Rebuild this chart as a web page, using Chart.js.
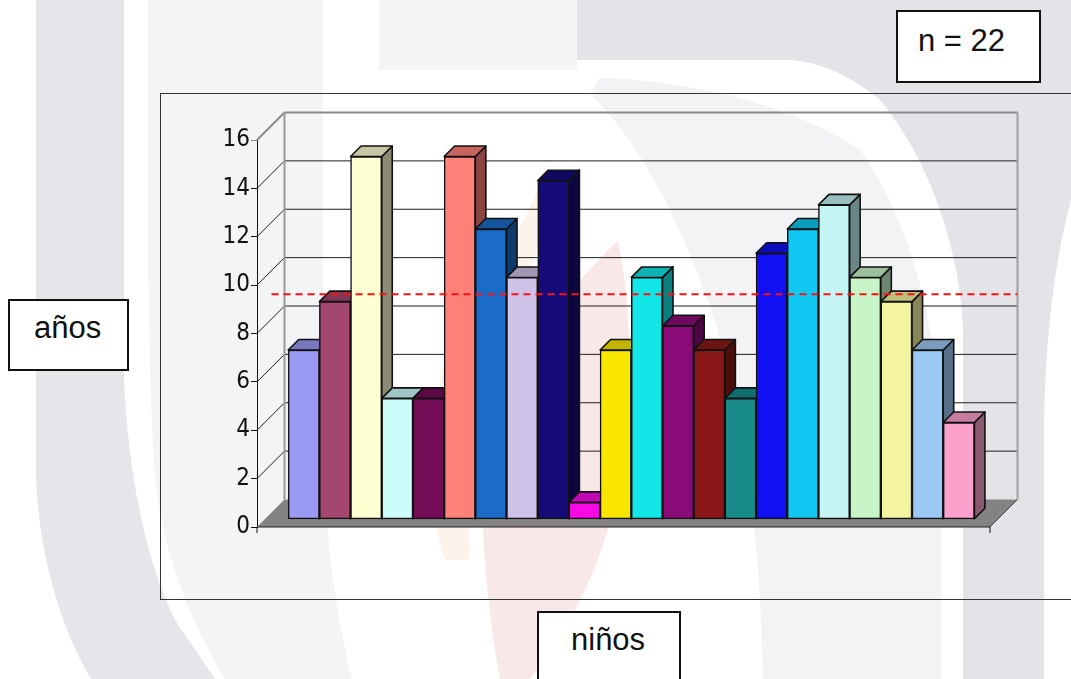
<!DOCTYPE html>
<html>
<head>
<meta charset="utf-8">
<script src="https://cdn.jsdelivr.net/npm/chart.js@4.4.0/dist/chart.umd.min.js"></script>
<style>
  html, body { margin:0; padding:0; width:1071px; height:679px; overflow:hidden; background:#fff;
               font-family:"Liberation Sans", Arial, sans-serif; }
  #bg { position:absolute; left:0; top:0; }
  #frame { position:absolute; left:160px; top:93px; width:1000px; height:507px;
           border:1.5px solid #333; box-sizing:border-box; }
  #c { position:absolute; left:0; top:0; }
  .box { position:absolute; background:#fff; border:2px solid #111; box-sizing:border-box; }
  .txt { position:absolute; font-size:31px; line-height:31px; color:#111; white-space:nowrap; }
</style>
</head>
<body>
<svg id="bg" width="1071" height="679" viewBox="0 0 1071 679">
  <path fill="#f3f4f6" d="M148,0 L323,0 L323,450 C326,540 335,610 352,679 L225,679 C190,620 165,560 155,480 C150,400 148,300 148,200 Z"/>
  <path fill="#f4f5f7" d="M379,0 L577,0 L577,70 L379,70 Z"/>
  <path fill="#f3f3f6" d="M600,78 C700,80 800,110 860,150 C910,220 935,320 941,420 L941,679 L763,679 C760,520 740,380 700,280 C670,200 630,130 590,95 Z"/>
  <path fill="#fdf3ea" d="M545,165 C530,230 470,300 440,380 C425,440 430,520 445,560 L470,560 C465,480 480,400 510,330 C530,280 550,220 545,165 Z"/>
  <path fill="#f9e8e8" d="M618,240 C630,300 635,380 620,480 C605,560 570,630 530,679 L500,679 C485,600 478,500 485,440 C500,360 570,290 618,240 Z"/>
  <path fill="#e6e5ea" d="M36,0 L124,0 L124,380 C128,470 145,560 175,620 L215,679 L91,679 C62,630 40,560 36,480 Z"/>
  <path fill="#e4e3e8" d="M577,0 L1071,0 L1071,200 C1055,260 1046,330 1044,420 L1044,679 L963,679 L963,330 C960,250 930,160 880,100 C850,75 820,62 790,60 L577,60 Z"/>
</svg>
<div id="frame"></div>
<canvas id="c" width="1071" height="679"></canvas>

<div class="box" style="left:896px; top:10px; width:145px; height:73px;"></div>
<div class="txt" style="left:918px; top:25px;">n = 22</div>
<div class="box" style="left:8px; top:299px; width:121px; height:72px;"></div>
<div class="txt" style="left:34px; top:312px;">años</div>
<div class="box" style="left:537px; top:611px; width:144px; height:80px;"></div>
<div class="txt" style="left:571px; top:624px;">niños</div>

<script>
// ---- data ----
const categorias = ['1','2','3','4','5','6','7','8','9','10','11','12','13','14','15','16','17','18','19','20','21','22'];
const edades = [7, 9, 15, 5, 5, 15, 12, 10, 14, 0.7, 7, 10, 8, 7, 5, 11, 12, 13, 10, 9, 7, 4];
const ticksY = [0, 2, 4, 6, 8, 10, 12, 14, 16];
const promedio = 9.3;

// ---- styles ----
const coloresBarras = ['#9a9af5','#a34771','#ffffd4','#ccfdfb','#740c58','#ff8078','#1a6cc8','#cfc2e8',
  '#150a78','#f80ae8','#f8e600','#12e6e6','#8a0a78','#8a1818','#188a8a','#1010f2','#10c8f2',
  '#c4f4f4','#c8f5c8','#f4f4a0','#9cc8f5','#fca0cc'];
const WALL_DEPTH = 27.5;   // oblique depth of the walls/floor
const BAR_LIFT = 7.7;      // bars stand a little behind the front edge
const BAR_DEPTH = 10.5;    // depth of each bar

function shade(hex, f) {
  const n = parseInt(hex.slice(1), 16);
  const r = Math.round(((n >> 16) & 255) * f), g = Math.round(((n >> 8) & 255) * f), b = Math.round((n & 255) * f);
  return `rgb(${r},${g},${b})`;
}
function poly(ctx, pts, fill, stroke, lw) {
  ctx.beginPath();
  ctx.moveTo(pts[0][0], pts[0][1]);
  for (let i = 1; i < pts.length; i++) ctx.lineTo(pts[i][0], pts[i][1]);
  ctx.closePath();
  if (fill) { ctx.fillStyle = fill; ctx.fill(); }
  if (stroke) { ctx.strokeStyle = stroke; ctx.lineWidth = lw || 1; ctx.stroke(); }
}
function line(ctx, x0, y0, x1, y1, color, lw) {
  ctx.beginPath(); ctx.moveTo(x0, y0); ctx.lineTo(x1, y1);
  ctx.strokeStyle = color; ctx.lineWidth = lw; ctx.stroke();
}

const pseudo3d = {
  id: 'pseudo3d',
  beforeDatasetsDraw(chart) {
    const { ctx, chartArea: a, scales: { y } } = chart;
    const L = a.left, R = a.right, B = a.bottom, D = WALL_DEPTH;
    const top = y.getPixelForValue(ticksY[ticksY.length - 1]);
    ctx.save();
    // floor
    poly(ctx, [[L, B], [R, B], [R + D, B - D], [L + D, B - D]], '#838383', null);
    line(ctx, L, B, R, B, '#222', 1.2);
    line(ctx, R, B, R + D, B - D, '#444', 1);
    // back wall grid lines and left wall diagonals
    ticksY.forEach(v => {
      if (v === 0) return;
      const py = y.getPixelForValue(v);
      const isTop = v === ticksY[ticksY.length - 1];
      const col = isTop ? '#8a8a8a' : '#1e1e1e';
      line(ctx, L, py, L + D, py - D, col, isTop ? 2 : 1);
      line(ctx, L + D, py - D, R + D, py - D, col, isTop ? 2 : 1);
    });
    // wall edges
    line(ctx, L + D, top - D, L + D, B - D, '#9a9a9a', 2);
    line(ctx, R + D, top - D, R + D, B - D, '#a0a0a0', 2);
    ctx.restore();

    // bar sides and tops (behind the front faces)
    ctx.save();
    ctx.translate(0, -BAR_LIFT);
    ctx.lineJoin = 'round';
    const meta = chart.getDatasetMeta(0);
    meta.data.forEach((bar, i) => {
      const x0 = bar.x - bar.width / 2, x1 = bar.x + bar.width / 2, t = bar.y, b = bar.base, d = BAR_DEPTH;
      const col = coloresBarras[i];
      poly(ctx, [[x1, t], [x1 + d, t - d], [x1 + d, b - d], [x1, b]], shade(col, 0.55), '#111', 1.6);
      poly(ctx, [[x0, t], [x0 + d, t - d], [x1 + d, t - d], [x1, t]], shade(col, 0.78), '#111', 1.6);
    });
    // keep the translation for the front faces drawn by Chart.js
  },
  afterDatasetsDraw(chart) {
    const { ctx, chartArea: a, scales: { y } } = chart;
    ctx.restore();
    // mean line
    const py = y.getPixelForValue(promedio) - BAR_LIFT;
    ctx.save();
    ctx.setLineDash([7, 5]);
    line(ctx, a.left + 14.5, py, a.right + WALL_DEPTH, py, '#ff1010', 2);
    ctx.restore();
    // small extensions of the axes below the floor
    ctx.save();
    line(ctx, a.left, a.bottom, a.left, a.bottom + 6, '#111', 1);
    line(ctx, a.right, a.bottom, a.right, a.bottom + 6, '#111', 1);
    ctx.restore();
  }
};

new Chart(document.getElementById('c'), {
  type: 'bar',
  data: {
    labels: categorias,
    datasets: [{
      label: 'años',
      data: categorias.map((c, i) => ({ x: i, y: edades[i] })),
      backgroundColor: coloresBarras,
      borderColor: '#111',
      borderWidth: 1.5,
      borderSkipped: false,
      categoryPercentage: 1,
      barPercentage: 1,
      clip: false
    }]
  },
  options: {
    responsive: false,
    devicePixelRatio: 1,
    animation: false,
    events: [],
    layout: { padding: { left: 207, right: 81, top: 140, bottom: 152 } },
    plugins: { legend: { display: false }, tooltip: { enabled: false } },
    scales: {
      x: {
        type: 'linear', min: -1.5, max: 22, display: false, offset: false,
        afterBuildTicks: s => { s.ticks = categorias.map((c, i) => ({ value: i })); }
      },
      y: {
        min: 0, max: 16,
        afterBuildTicks: s => { s.ticks = ticksY.map(v => ({ value: v })); },
        afterFit: s => { s.width = 50; },
        grid: {
          drawOnChartArea: false, drawTicks: true, tickLength: 6, lineWidth: 1,
          color: c => (c.tick && c.tick.value === 16) ? '#8a8a8a' : '#111'
        },
        border: { display: true, color: '#111', width: 1 },
        ticks: {
          padding: 1, color: '#111',
          font: { family: "'Liberation Sans Narrow', 'Arial Narrow', 'DejaVu Sans Condensed', sans-serif", size: 24 }
        }
      }
    }
  },
  plugins: [pseudo3d]
});
</script>
</body>
</html>
